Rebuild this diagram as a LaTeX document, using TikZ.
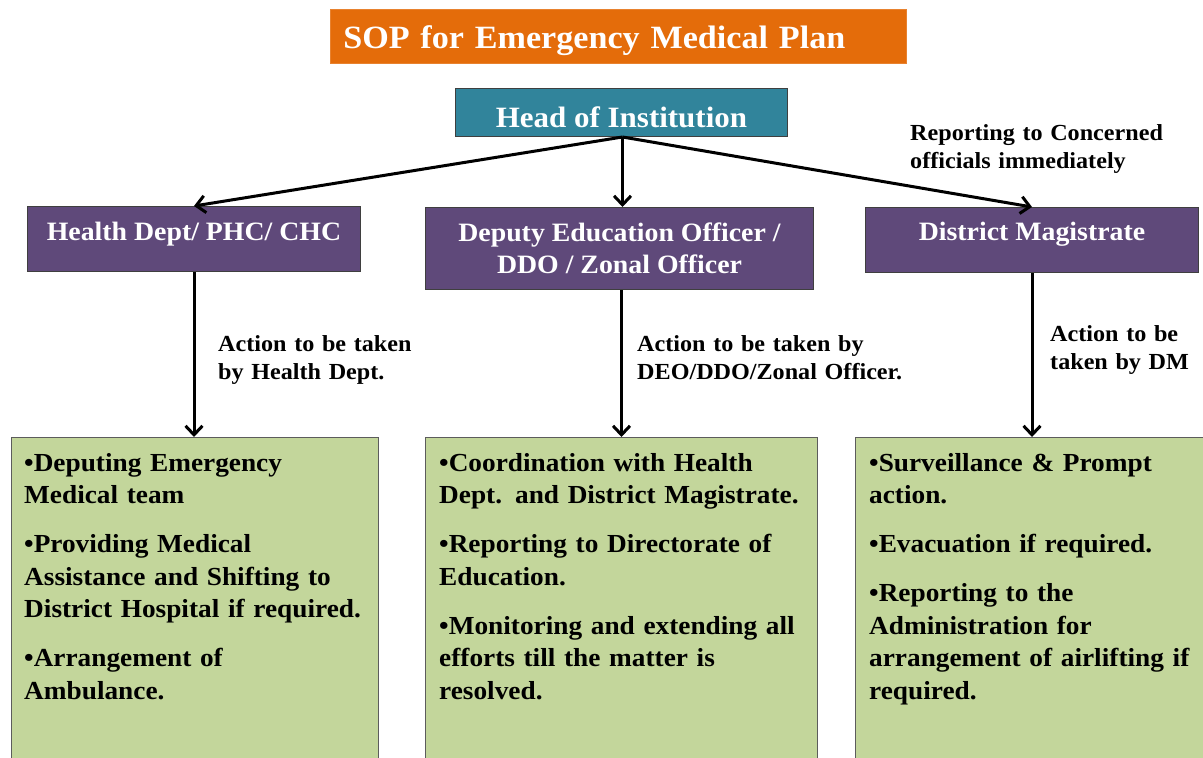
\documentclass[tikz,border=0pt]{standalone}
\usepackage{fontspec}
\setmainfont{Liberation Serif}[FakeStretch=1.05]
\usetikzlibrary{arrows.meta}
\definecolor{titleorange}{HTML}{E46C0A}
\definecolor{headteal}{HTML}{31849B}
\definecolor{officepurple}{HTML}{5F497A}
\definecolor{actiongreen}{HTML}{C3D69B}
\definecolor{boxedge}{HTML}{3F3F3F}

\begin{document}
\begin{tikzpicture}[x=1pt,y=-1pt,
  titlebox/.style={fill=titleorange, draw=titleorange!85!white, line width=0.6pt,
    text=white, font=\bfseries\fontsize{32.5}{36}\selectfont,
    anchor=north west, inner ysep=0pt, inner xsep=13pt},
  headbox/.style={fill=headteal, draw=boxedge, line width=1pt,
    text=white, font=\bfseries\fontsize{29.5}{34}\selectfont,
    anchor=north west, inner sep=0pt},
  officebox/.style={fill=officepurple, draw=boxedge, line width=1pt,
    text=white, font=\bfseries\fontsize{26.5}{32}\selectfont,
    anchor=north west, inner sep=0pt},
  actionbox/.style={fill=actiongreen, draw=boxedge!85, line width=1pt,
    anchor=north west, inner sep=0pt},
  actiontext/.style={anchor=base west, inner sep=0pt, text width=380pt,
    align=left, font=\bfseries\fontsize{26}{32.5}\selectfont},
  notetext/.style={anchor=base west, inner sep=0pt, text width=300pt,
    align=left, font=\bfseries\fontsize{23}{28.5}\selectfont},
  arrowline/.style={line width=3pt,
    -{Straight Barb[length=9pt,width=17pt]}}
]
\useasboundingbox (0,0) rectangle (1203,758);
\clip (0,0) rectangle (1203,758);
\fill[white] (0,0) rectangle (1203,758);

% title and head
\node[titlebox, text width=550pt, align=left, text height=39pt, text depth=15pt]
  (title) at (330,9) {SOP for Emergency Medical Plan};
\node[headbox, minimum width=332pt, text height=39pt, text depth=9pt]
  (head) at (455,88) {Head of Institution};

% offices
\node[officebox, minimum width=333pt, text height=33.5pt, text depth=31.5pt]
  (health) at (27,206) {Health Dept/ PHC/ CHC};
\node[officebox, minimum width=388pt, minimum height=82pt, align=center]
  (deputy) at (425,207) {Deputy Education Officer /\\DDO / Zonal Officer};
\node[officebox, minimum width=333pt, text height=33pt, text depth=32pt]
  (district) at (865,207) {District Magistrate};

% action boxes
\node[actionbox, minimum width=367pt, minimum height=340pt] (healthact) at (11,437) {};
\node[actionbox, minimum width=392pt, minimum height=340pt] (deputyact) at (425,437) {};
\node[actionbox, minimum width=370pt, minimum height=340pt] (districtact) at (855,437) {};

\node[actiontext] (healthlist) at (24,471)
  {\textbullet Deputing Emergency\\Medical team\\[16.5pt]
   \textbullet Providing Medical\\Assistance and Shifting to\\District Hospital if required.\\[16.5pt]
   \textbullet Arrangement of\\Ambulance.};
\node[actiontext] (deputylist) at (439,471)
  {\textbullet Coordination with Health\\Dept. and District Magistrate.\\[16.5pt]
   \textbullet Reporting to Directorate of\\Education.\\[16.5pt]
   \textbullet Monitoring and extending all\\efforts till the matter is\\resolved.};
\node[actiontext] (districtlist) at (869,471)
  {\textbullet Surveillance \& Prompt\\action.\\[16.5pt]
   \textbullet Evacuation if required.\\[16.5pt]
   \textbullet Reporting to the\\Administration for\\arrangement of airlifting if\\required.};

% notes beside the connectors
\node[notetext] (healthnote) at (218,351) {Action to be taken\\by Health Dept.};
\node[notetext] (deputynote) at (637,351) {Action to be taken by\\DEO/DDO/Zonal Officer.};
\node[notetext] (districtnote) at (1050,341) {Action to be\\taken by DM};
\node[notetext] (reportnote) at (910,140) {Reporting to Concerned\\officials immediately};

% connectors
\coordinate (fork) at ([xshift=1pt]head.south);
\draw[arrowline] (fork) -- (health.north);
\draw[arrowline] (fork) -- (fork |- deputy.north);
\draw[arrowline] (fork) -- (district.north);
\draw[arrowline] (health.south) -- (health.south |- healthact.north);
\draw[arrowline] ([xshift=2pt]deputy.south) -- ([xshift=2pt]deputy.south |- deputyact.north);
\draw[arrowline] (district.south) -- (district.south |- districtact.north);
\end{tikzpicture}
\end{document}
